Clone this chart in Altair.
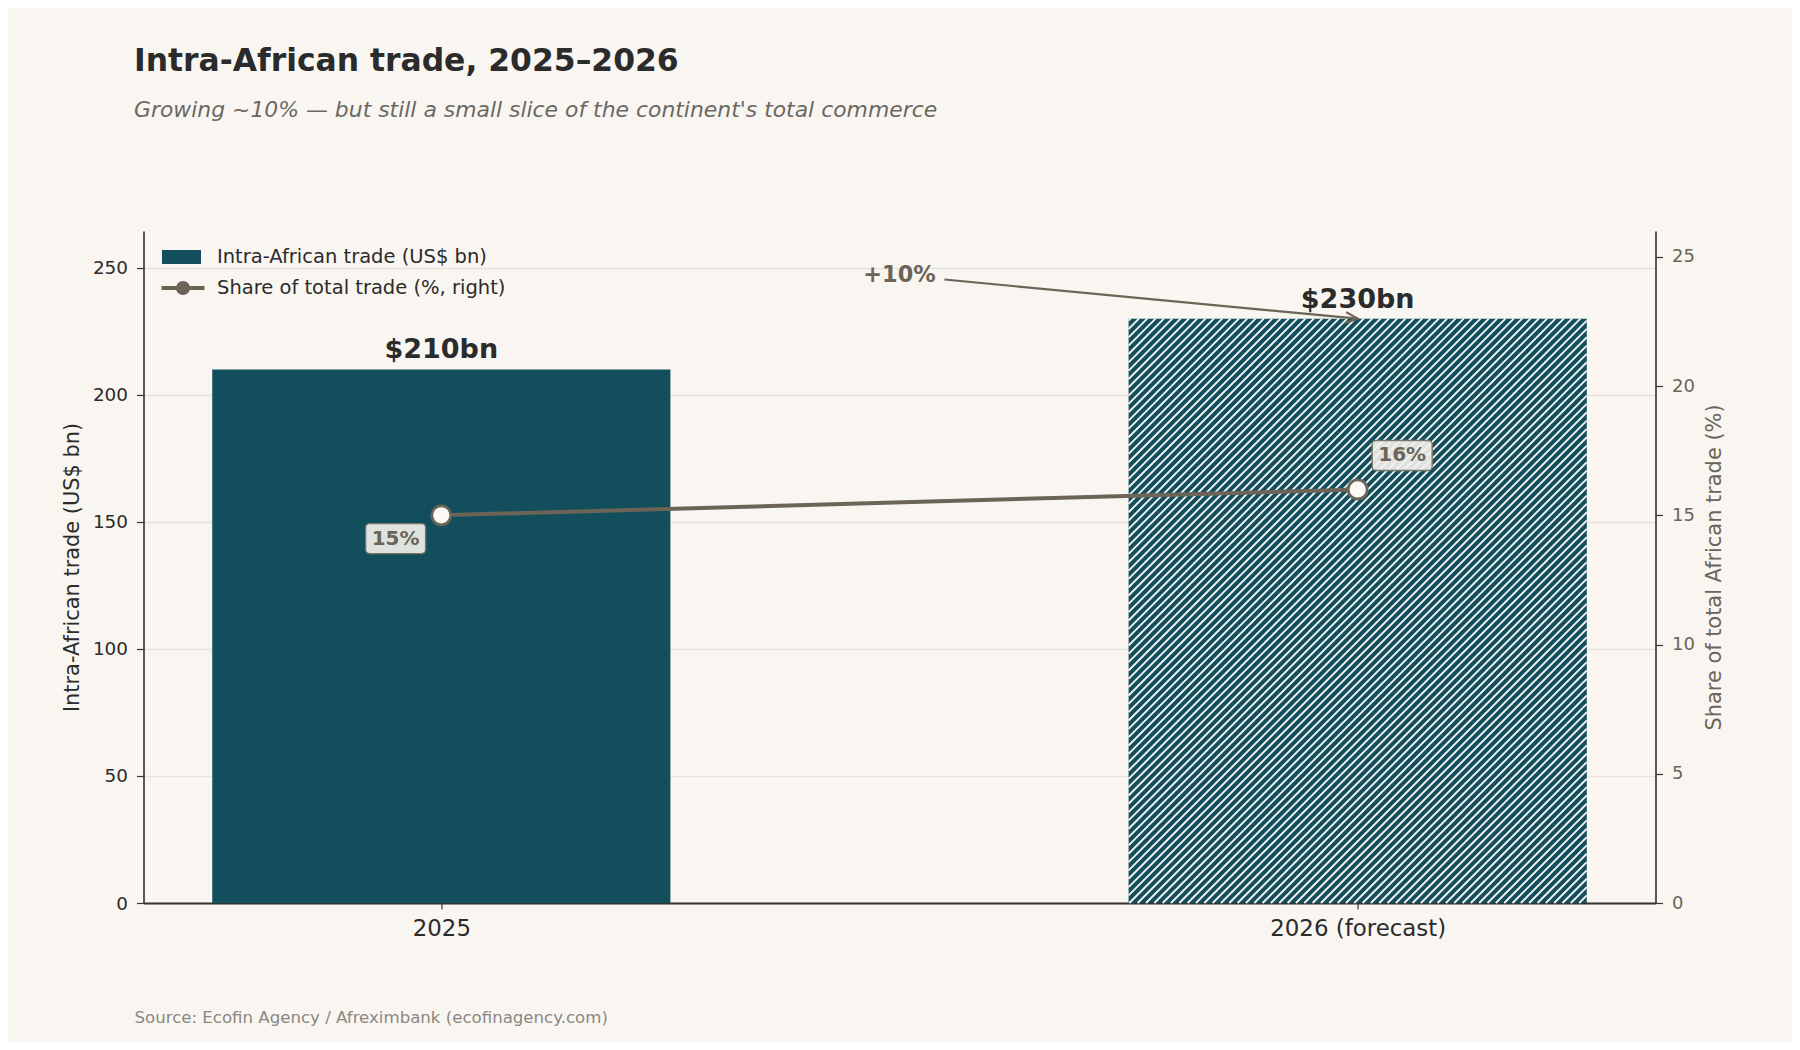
import json
import altair as alt
import pandas as pd

# ---------------- data ----------------
years = ["2025", "2026 (forecast)"]
trade_bn = [210, 230]
share_pct = [15, 16]
trade_labels = ["$210bn", "$230bn"]
share_labels = ["15%", "16%"]
is_forecast = [False, True]

growth_label = "+10%"
growth_label_at = (0.5, 247.1)      # (category index, US$ bn)
growth_arrow_from = (0.549, 245.4)  # (category index, US$ bn)

series_bar = "Intra-African trade (US$ bn)"
series_line = "Share of total trade (%, right)"

title_text = "Intra-African trade, 2025–2026"
subtitle_text = "Growing ~10% — but still a small slice of the continent's total commerce"
source_text = "Source: Ecofin Agency / Afreximbank (ecofinagency.com)"
y_left_title = "Intra-African trade (US$ bn)"
y_right_title = "Share of total African trade (%)"
y_left_ticks = [0, 50, 100, 150, 200, 250]
y_right_ticks = [0, 5, 10, 15, 20, 25]

# ---------------- style ----------------
BG = "#f9f6f1"
TEAL = "#134e5c"
TAUPE = "#6b6457"
INK = "#2b2b2b"
GRID = "#e7e3dd"
AXIS = "#333333"
FONT = "DejaVu Sans"

W, H = 1512, 672
X_DOM = [-0.325, 1.325]
YL_DOM = [0, max(trade_bn) * 1.15]
YR_DOM = [0, 26]
BAR_HALF = 0.25
HATCH_STEP = 8.33  # px between hatch lines (horizontal)
LABEL_OFFSETS = {0: (-45.7, 23.3), 1: (44.5, -34.0)}  # px offsets of share label boxes

# ---------------- tables ----------------
n = len(years)
df = pd.DataFrame({
    "idx": list(range(n)),
    "year": years,
    "trade": trade_bn,
    "share": share_pct,
    "tlabel": trade_labels,
    "slabel": share_labels,
    "forecast": is_forecast,
})
df["x0"] = df["idx"] - BAR_HALF
df["x1"] = df["idx"] + BAR_HALF
df["s_bar"] = series_bar
df["s_line"] = series_line

# hatch lines for forecast bars (45 degrees in pixel space), derived from bar extents
px_x = W / (X_DOM[1] - X_DOM[0])
px_y = H / (YL_DOM[1] - YL_DOM[0])
rows = []
for _, r in df[df["forecast"]].iterrows():
    wp = (r["x1"] - r["x0"]) * px_x
    hp = r["trade"] * px_y
    c = -hp + 2.0
    while c < wp:
        u0 = max(0.0, c)
        u1 = min(wp, hp + c)
        if u1 > u0:
            rows.append({
                "hx0": r["x0"] + u0 / px_x, "hy0": (u0 - c) / px_y,
                "hx1": r["x0"] + u1 / px_x, "hy1": (u1 - c) / px_y,
            })
        c += HATCH_STEP
hatch = pd.DataFrame(rows)

fi = is_forecast.index(True)
ann = pd.DataFrame({
    "x": [growth_label_at[0]], "y": [growth_label_at[1]], "label": [growth_label],
    "xt": [growth_arrow_from[0]], "yt": [growth_arrow_from[1]],
    "xh": [float(fi)], "yh": [float(trade_bn[fi])],
})

# ---------------- scales / axes ----------------
xs = alt.Scale(domain=X_DOM, nice=False, zero=False)
yls = alt.Scale(domain=YL_DOM, nice=False)
yrs = alt.Scale(domain=YR_DOM, nice=False)

x_axis = alt.Axis(
    values=list(range(n)), labelExpr=f"{json.dumps(years)}[round(datum.value)]",
    grid=False, domainColor=AXIS, domainWidth=2.2, tickColor=AXIS, tickWidth=1.2,
    tickSize=6, labelFontSize=22.9, labelColor=INK, labelPadding=8, labelFont=FONT,
    title=source_text, titleFont=FONT, titleFontSize=16.6, titleFontWeight="normal",
    titleColor="#8a8783", titleAnchor="start", titleAlign="left",
    titleBaseline="alphabetic", titleX=-9.5, titleY=119,
)
yl_axis = alt.Axis(
    values=y_left_ticks, grid=True, gridColor=GRID, gridWidth=1.3,
    domainColor=AXIS, domainWidth=1.6, tickColor=AXIS, tickWidth=1.2, tickSize=7,
    labelFontSize=18.4, labelColor=INK, labelPadding=9, labelFont=FONT,
    title=y_left_title, titleFont=FONT, titleFontSize=20.9, titleColor=INK,
    titleFontWeight="normal", titlePadding=10,
)
yr_axis = alt.Axis(
    orient="right", values=y_right_ticks, grid=False,
    domainColor=AXIS, domainWidth=1.6, tickColor=AXIS, tickWidth=1.2, tickSize=7,
    labelFontSize=18, labelColor=TAUPE, labelPadding=9, labelFont=FONT,
    title=y_right_title, titleFont=FONT, titleFontSize=20.9, titleColor=TAUPE,
    titleFontWeight="normal", titleAngle=270, titleBaseline="top", titlePadding=9,
)


def X(f):
    return alt.X(f, type="quantitative", scale=xs, axis=x_axis)


def YL(f):
    return alt.Y(f, type="quantitative", scale=yls, axis=yl_axis)


def YR(f):
    return alt.Y(f, type="quantitative", scale=yrs, axis=yr_axis)


RECT_PATH = "M-1,-0.36L1,-0.36L1,0.36L-1,0.36Z"


def ring(r):
    return f"M{r},0A{r},{r},0,1,1,{-r},0A{r},{r},0,1,1,{r},0Z"


LINE_PATH = "M-1,0L1,0" + "".join(ring(r) for r in (0.07, 0.16, 0.235))

bar_legend = alt.Legend(
    title=None, orient="none", legendX=18.5, legendY=6.5, symbolType=RECT_PATH,
    symbolSize=1521, symbolStrokeWidth=0, labelFontSize=19.5, labelColor=INK,
    labelFont=FONT, labelOffset=16, padding=0, labelLimit=0,
)
line_legend = alt.Legend(
    title=None, orient="none", legendX=16, legendY=33.5, symbolType=LINE_PATH,
    symbolSize=1849, symbolStrokeWidth=4, symbolFillColor=TAUPE, symbolStrokeColor=TAUPE,
    labelFontSize=19.5, labelColor=INK, labelFont=FONT, labelOffset=10.5, padding=0,
    labelLimit=0,
)

base = alt.Chart(df)

bars = base.mark_bar().encode(
    x=X("x0"), x2="x1", y=YL("trade"), y2=alt.datum(0),
    color=alt.Color("s_bar:N", scale=alt.Scale(domain=[series_bar], range=[TEAL]), legend=bar_legend),
)
hatch_layer = alt.Chart(hatch).mark_rule(color="#f1f3f1", strokeWidth=1.9).encode(
    x=X("hx0"), x2="hx1", y=YL("hy0"), y2="hy1",
)
bar_text = base.mark_text(
    baseline="alphabetic", dy=-11, fontSize=27, fontWeight="bold", color=INK, font=FONT,
).encode(x=X("idx"), y=YL("trade"), text="tlabel")

arrow_line = alt.Chart(ann).mark_rule(color=TAUPE, strokeWidth=2.2).encode(
    x=X("xt"), x2="xh", y=YL("yt"), y2="yh",
)
arrow_head = alt.Chart(ann).mark_point(
    shape="M-1,-0.45L0,0L-1,0.45", filled=False, size=576, angle=5.5,
    strokeWidth=2.2, color=TAUPE, opacity=1,
).encode(x=X("xh"), y=YL("yh"))
ann_text = alt.Chart(ann).mark_text(
    fontSize=22.4, fontWeight="bold", color=TAUPE, baseline="middle", font=FONT,
).encode(x=X("x"), y=YL("y"), text="label")

line = base.mark_line(strokeWidth=4).encode(
    x=X("idx"), y=YR("share"),
    stroke=alt.Stroke("s_line:N", scale=alt.Scale(domain=[series_line], range=[TAUPE]), legend=line_legend),
)
pts = base.mark_point(
    shape="circle", filled=True, fill="#fbf9f5", stroke=TAUPE, strokeWidth=2.7, size=361, opacity=1,
).encode(x=X("idx"), y=YR("share"))

right_layers = [line, pts]
for i, (cx, cy) in LABEL_OFFSETS.items():
    sub = base.transform_filter(alt.datum.idx == i)
    right_layers.append(
        sub.mark_rect(
            xOffset=cx - 30, x2Offset=cx + 30, yOffset=cy - 15, y2Offset=cy + 15,
            cornerRadius=4, fill="#f1f0eb", fillOpacity=0.92, stroke="#7a7468", strokeWidth=1.4,
        ).encode(x=X("idx"), x2="idx", y=YR("share"), y2="share")
    )
    right_layers.append(
        sub.mark_text(
            dx=cx, dy=cy, fontSize=20, fontWeight="bold", color=TAUPE, baseline="middle", font=FONT,
        ).encode(x=X("idx"), y=YR("share"), text="slabel")
    )

left = alt.layer(bars, hatch_layer, bar_text, arrow_line, arrow_head, ann_text)
right = alt.layer(*right_layers)

chart = (
    alt.layer(left, right)
    .resolve_scale(y="independent")
    .properties(
        width=W, height=H,
        title=alt.TitleParams(
            text=title_text, subtitle=subtitle_text, anchor="start", frame="group",
            dx=-9.5, offset=110, font=FONT, fontSize=31.4, fontWeight="bold", color=INK,
            subtitleFont=FONT, subtitleFontSize=21.9, subtitleFontStyle="italic",
            subtitleColor="#6b6863", subtitlePadding=23,
        ),
        background=BG,
        padding={"left": 135.5, "top": 223, "right": 136.5, "bottom": 138.5},
        autosize=alt.AutoSizeParams(type="none"),
    )
    .configure_view(stroke=None)
    .configure_axis(labelFont=FONT, titleFont=FONT)
    .configure_legend(labelFont=FONT)
)

chart.save("out.html", embed_options={"renderer": "svg", "actions": False})
